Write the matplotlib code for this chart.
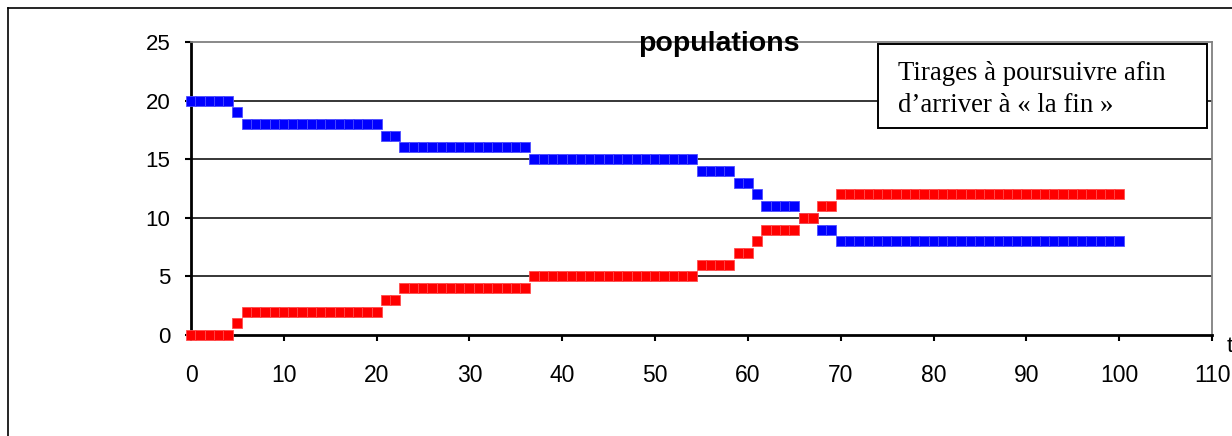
import matplotlib.pyplot as plt
from matplotlib.patches import Rectangle
from matplotlib.lines import Line2D

# tirages successifs (t = 0..100)
t = list(range(0, 101))

bleus = [20, 20, 20, 20, 20, 19, 18, 18, 18, 18,
         18, 18, 18, 18, 18, 18, 18, 18, 18, 18,
         18, 17, 17, 16, 16, 16, 16, 16, 16, 16,
         16, 16, 16, 16, 16, 16, 16, 15, 15, 15,
         15, 15, 15, 15, 15, 15, 15, 15, 15, 15,
         15, 15, 15, 15, 15, 14, 14, 14, 14, 13,
         13, 12, 11, 11, 11, 11, 10, 10, 9, 9,
         8, 8, 8, 8, 8, 8, 8, 8, 8, 8,
         8, 8, 8, 8, 8, 8, 8, 8, 8, 8,
         8, 8, 8, 8, 8, 8, 8, 8, 8, 8, 8]

rouges = [0, 0, 0, 0, 0, 1, 2, 2, 2, 2,
          2, 2, 2, 2, 2, 2, 2, 2, 2, 2,
          2, 3, 3, 4, 4, 4, 4, 4, 4, 4,
          4, 4, 4, 4, 4, 4, 4, 5, 5, 5,
          5, 5, 5, 5, 5, 5, 5, 5, 5, 5,
          5, 5, 5, 5, 5, 6, 6, 6, 6, 7,
          7, 8, 9, 9, 9, 9, 10, 10, 11, 11,
          12, 12, 12, 12, 12, 12, 12, 12, 12, 12,
          12, 12, 12, 12, 12, 12, 12, 12, 12, 12,
          12, 12, 12, 12, 12, 12, 12, 12, 12, 12, 12]

xticks = [0, 10, 20, 30, 40, 50, 60, 70, 80, 90, 100, 110]
yticks = [0, 5, 10, 15, 20, 25]

plt.rcParams['font.family'] = ['Liberation Sans', 'DejaVu Sans']

W, H = 1232, 436
fig = plt.figure(figsize=(W / 100, H / 100), dpi=100)
ax = fig.add_axes([191 / W, (H - 335) / H, 1021 / W, 293 / H])

ax.plot(t, bleus, ls='none', marker='s', ms=7.4, color='#0000ff',
        mec='#4d4dff', mew=0.6, clip_on=False, zorder=3)
ax.plot(t, rouges, ls='none', marker='s', ms=7.4, color='#ff0000',
        mec='#ff4d4d', mew=0.6, clip_on=False, zorder=4)

ax.set_xlim(0, 110)
ax.set_ylim(0, 25)
ax.set_xticks(xticks)
ax.set_yticks(yticks)
ax.tick_params(axis='x', direction='out', length=4, width=1.5, pad=17, labelsize=16.5)
ax.tick_params(axis='y', direction='out', length=4, width=1.5, pad=11, labelsize=16)

for y in [5, 10, 15, 20]:
    ax.axhline(y, color='black', lw=1.1, zorder=1)

ax.spines['left'].set_linewidth(2)
ax.spines['bottom'].set_linewidth(2)
ax.spines['top'].set_color('#808080')
ax.spines['right'].set_color('#808080')
ax.spines['top'].set_linewidth(1.3)
ax.spines['right'].set_linewidth(1.3)

fig.text(719 / W, 1 - 44 / H, 'populations', fontsize=20.5, fontweight='bold',
         ha='center', va='center')
fig.text(1227 / W, 1 - 346 / H, 't', fontsize=16, ha='left', va='center')

# cadre du graphique
fig.add_artist(Line2D([8 / W, 8 / W], [0, 1 - 8 / H], color='black', lw=1.2))
fig.add_artist(Line2D([8 / W, 1], [1 - 8 / H, 1 - 8 / H], color='black', lw=1.2))

# encadre de texte
fig.add_artist(Rectangle((878 / W, 1 - 128 / H), 329 / W, 84 / H,
                         transform=fig.transFigure, facecolor='white',
                         edgecolor='black', lw=1.4, zorder=5))
fig.text(898 / W, 1 - 80 / H, 'Tirages à poursuivre afin', fontsize=19.3,
         family='Liberation Serif', ha='left', va='baseline', zorder=6)
fig.text(898 / W, 1 - 112 / H, 'd\u2019arriver à « la fin »', fontsize=19.3,
         family='Liberation Serif', ha='left', va='baseline', zorder=6)

fig.savefig('out.png', dpi=100)
